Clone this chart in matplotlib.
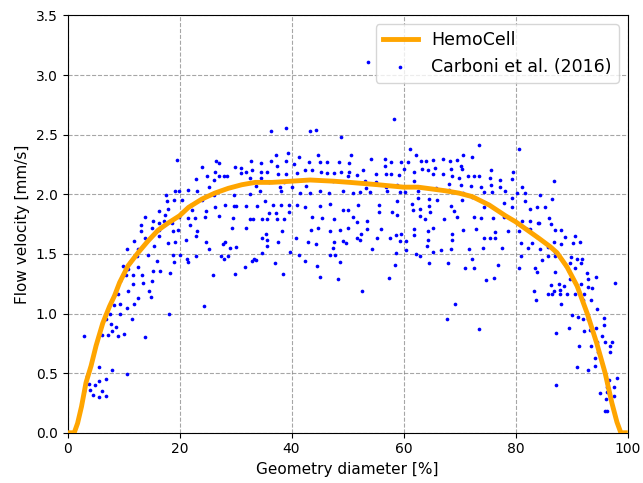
#!/usr/bin/env python
'''
    Flow velocity profile: HemoCell simulation against Carboni et al. (2016).
'''

import numpy as np
import matplotlib
matplotlib.use('Agg')
import matplotlib.pyplot as plt

# HemoCell velocity profile across the channel.
sim_diameter = [0.0, 1.2, 1.8, 2.5, 3.3, 4.2, 5.1, 6.3, 7.5, 8.4, 9.3, 10.8,
                12.6, 14.4, 16.2, 18.0, 20.0, 21.6, 24.0, 26.3, 28.7, 31.1,
                33.5, 36.5, 40.0, 43.3, 47.5, 50.4, 55.5, 60.0, 62.6, 67.4,
                69.9, 72.3, 75.3, 78.2, 80.0, 82.4, 84.2, 86.2, 87.4, 89.2,
                91.0, 92.8, 94.5, 96.0, 97.2, 98.1, 98.8, 99.6]
sim_velocity = [0.0, 0.0, 0.08, 0.22, 0.42, 0.56, 0.73, 0.92, 1.06, 1.15, 1.26,
                1.40, 1.51, 1.61, 1.70, 1.76, 1.82, 1.89, 1.96, 2.01, 2.05,
                2.08, 2.10, 2.10, 2.11, 2.12, 2.11, 2.10, 2.08, 2.06, 2.06,
                2.03, 2.01, 1.98, 1.91, 1.82, 1.77, 1.69, 1.63, 1.56, 1.51,
                1.39, 1.23, 1.00, 0.75, 0.50, 0.25, 0.09, 0.0, 0.0]

# Measured velocities, Carboni et al. (2016).
exp_diameter = [
    2.9, 3.4, 2.9, 3.8, 4.1, 4.6, 4.9, 5.6, 5.7, 5.6, 6.1, 6.9, 6.9, 7.9, 10.7,
    6.1, 7.2, 7.9, 8.7, 9.0, 10.0, 7.7, 6.8, 7.5, 9.4, 8.3, 9.4, 9.1, 10.6,
    11.6, 11.9, 12.6, 13.9, 10.8, 9.4, 9.9, 10.8, 10.4, 11.1, 11.7, 11.7, 12.6,
    13.3, 13.5, 14.6, 14.9, 15.0, 10.6, 12.4, 11.8, 12.5, 14.4, 15.3, 15.9,
    16.5, 15.5, 13.8, 13.1, 13.2, 13.8, 15.1, 15.2, 16.3, 16.4, 16.4, 16.4,
    19.5, 24.0, 26.5, 27.0, 23.0, 24.9, 26.3, 26.2, 27.0, 27.9, 28.5, 29.9,
    30.9, 31.0, 31.9, 32.8, 32.9, 32.6, 19.2, 19.9, 21.6, 23.1, 17.6, 17.7,
    19.1, 20.5, 17.9, 17.4, 17.2, 25.2, 24.0, 22.1, 22.3, 24.7, 24.5, 21.6,
    22.8, 21.9, 19.9, 18.7, 18.8, 19.8, 23.1, 22.9, 21.1, 19.2, 17.9, 26.3,
    27.0, 28.2, 26.1, 29.8, 29.7, 30.0, 31.9, 32.6, 29.5, 29.4, 32.6, 33.1,
    31.9, 24.8, 25.2, 27.8, 28.2, 29.1, 30.0, 18.9, 20.1, 19.1, 21.3, 21.5,
    23.0, 27.4, 28.0, 28.6, 18.3, 25.9, 29.9, 31.7, 32.9, 33.3, 24.4, 18.1,
    36.4, 39.0, 43.3, 44.4, 48.8, 34.5, 36.4, 37.3, 37.4, 39.0, 39.3, 40.4,
    41.3, 43.1, 44.7, 45.0, 46.4, 48.4, 50.3, 34.5, 34.5, 35.7, 37.6, 39.0,
    40.9, 42.4, 43.7, 45.3, 46.4, 47.5, 48.8, 50.0, 50.2, 33.7, 34.3, 36.0,
    37.9, 38.6, 38.2, 40.1, 41.5, 42.6, 43.3, 45.0, 46.7, 47.4, 49.2, 35.3,
    33.9, 36.7, 38.2, 39.5, 41.0, 42.4, 45.0, 46.9, 49.1, 50.0, 34.8, 35.7,
    36.0, 37.3, 37.4, 38.6, 39.5, 43.7, 45.4, 47.5, 50.0, 35.5, 34.7, 35.6,
    35.6, 38.3, 37.5, 43.5, 44.7, 46.9, 48.7, 40.8, 42.9, 44.3, 47.6, 47.4,
    49.1, 49.8, 34.8, 33.7, 39.7, 41.3, 42.4, 46.9, 47.8, 48.6, 37.0, 38.5,
    44.6, 45.0, 48.3,
    53.6, 58.3, 50.6, 54.2, 56.7, 56.6, 57.8, 59.5, 60.8, 61.2, 62.3,
    63.2, 64.0, 65.3, 67.0, 51.6, 52.8, 55.0, 56.8, 57.7, 59.1, 60.0, 61.8,
    63.3, 64.4, 65.3, 65.7, 67.1, 53.2, 53.3, 55.0, 58.8, 56.8, 57.0, 61.8,
    62.6, 65.8, 51.0, 52.3, 54.0, 59.3, 60.3, 62.5, 64.5, 66.0, 58.9, 51.8,
    55.6, 61.5, 63.0, 64.5, 51.0, 51.6, 55.7, 58.0, 58.9, 61.6, 62.9, 63.8,
    64.8, 67.2, 53.4, 53.5, 56.0, 52.4, 51.6, 52.3, 55.3, 57.5, 58.6, 59.5,
    59.4, 60.5, 61.8, 61.8, 64.3, 65.2, 64.4, 64.2, 54.4, 58.6, 60.5, 62.2,
    62.9, 65.2, 66.6, 58.5, 64.5, 57.4, 52.6,
    73.5, 80.6, 68.3, 69.6, 70.6, 72.2, 70.3, 68.4, 70.4, 68.6, 69.9, 71.5,
    72.6, 73.5, 75.6, 75.5, 77.3, 79.5, 79.3, 68.1, 68.1, 70.2, 72.0, 73.8,
    75.6, 77.2, 74.4, 75.8, 78.2, 80.2, 81.2, 81.6, 70.7, 72.2, 70.5, 79.3,
    81.7, 68.4, 77.9, 74.3, 79.3, 82.6, 83.9, 69.0, 69.5, 72.5, 73.9, 76.0,
    78.0, 81.1, 82.6, 84.0, 70.7, 73.0, 78.7, 80.7, 82.0, 82.6, 68.6, 68.6,
    68.4, 74.4, 75.5, 76.3, 76.4, 80.9, 82.9, 71.6, 74.2, 77.6, 82.2, 83.9,
    72.3, 68.0, 71.0, 72.6, 76.9, 80.9, 80.7, 83.4, 83.9, 74.7, 76.2, 83.3,
    83.6, 69.2, 67.8, 73.5,
    86.8, 84.3, 86.5, 85.2, 84.2, 85.9, 86.3, 87.0, 88.2, 88.8, 90.7, 91.5,
    90.2, 88.1, 86.8, 85.8, 84.4, 84.8, 85.8, 87.1, 87.1, 89.9, 90.9, 91.9,
    91.6, 90.6, 89.8, 89.0, 89.5, 89.8, 87.0, 92.7, 94.3, 92.9, 91.6, 92.9,
    93.7, 86.3, 87.8, 88.7, 86.9, 87.9, 85.8, 86.5, 87.9, 89.1, 90.6, 92.3,
    92.0, 93.5, 88.1, 94.5, 90.0, 91.1, 92.1, 92.9, 95.8, 89.6, 92.2, 93.3,
    94.3, 95.8, 87.2, 95.5, 91.3, 93.4, 94.5, 95.9, 96.9, 97.3, 96.8, 94.7,
    94.2, 94.2, 90.9, 93.0, 96.7, 96.4, 98.1, 96.3, 97.5, 96.4, 95.1, 97.5,
    96.1, 87.2, 96.0, 96.3, 97.8]
exp_velocity = [
    0.81, 0.48, 0.35, 0.41, 0.36, 0.32, 0.40, 0.43, 0.55, 0.30, 0.35, 0.45,
    0.31, 0.53, 0.49, 0.82, 0.82, 0.85, 0.89, 0.81, 0.83, 0.91, 0.95, 1.00,
    1.00, 1.07, 1.08, 1.16, 1.05, 0.95, 1.08, 1.13, 0.80, 1.19, 1.27, 1.40,
    1.37, 1.32, 1.43, 1.32, 1.25, 1.39, 1.32, 1.26, 1.19, 1.14, 1.27, 1.54,
    1.48, 1.61, 1.54, 1.49, 1.36, 1.44, 1.36, 1.57, 1.63, 1.69, 1.74, 1.81,
    1.72, 1.78, 1.76, 1.86, 1.70, 1.65,
    2.29, 2.23, 2.28, 2.26, 2.13, 2.15, 2.19, 2.12, 2.15, 2.15, 2.15, 2.23,
    2.22, 2.18, 2.19, 2.28, 2.20, 2.14, 2.03, 2.03, 2.04, 2.03, 1.99, 1.94,
    1.95, 1.95, 1.88, 1.83, 1.78, 2.06, 1.95, 1.91, 1.87, 1.86, 1.81, 1.80,
    1.80, 1.74, 1.81, 1.76, 1.69, 1.70, 1.69, 1.65, 1.62, 1.60, 1.59, 1.89,
    1.82, 1.91, 1.99, 1.99, 1.90, 1.90, 1.90, 2.00, 1.80, 1.72, 1.79, 1.79,
    1.72, 1.60, 1.54, 1.58, 1.60, 1.55, 1.56, 1.49, 1.49, 1.43, 1.46, 1.43,
    1.48, 1.48, 1.46, 1.48, 1.34, 1.32, 1.33, 1.39, 1.44, 1.46, 1.06, 1.00,
    2.53, 2.56, 2.53, 2.54, 2.48, 2.26, 2.28, 2.33, 2.24, 2.28, 2.35, 2.25,
    2.31, 2.27, 2.33, 2.27, 2.27, 2.27, 2.26, 2.19, 2.14, 2.19, 2.17, 2.17,
    2.18, 2.20, 2.20, 2.19, 2.18, 2.18, 2.19, 2.15, 2.19, 2.07, 2.03, 2.10,
    2.06, 2.10, 2.03, 2.06, 2.01, 2.07, 2.01, 2.03, 2.01, 2.11, 2.03, 1.94,
    1.90, 1.91, 1.91, 1.91, 1.91, 1.89, 1.90, 1.92, 1.87, 1.87, 1.79, 1.79,
    1.84, 1.84, 1.79, 1.79, 1.85, 1.81, 1.80, 1.79, 1.72, 1.67, 1.63, 1.62,
    1.57, 1.69, 1.60, 1.70, 1.72, 1.69, 1.70, 1.63, 1.60, 1.58, 1.60, 1.55,
    1.61, 1.59, 1.51, 1.45, 1.52, 1.49, 1.44, 1.49, 1.49, 1.43, 1.42, 1.33,
    1.40, 1.31, 1.29,
    3.11, 2.63, 2.33, 2.30, 2.30, 2.24, 2.27, 2.27, 2.27, 2.38, 2.33,
    2.28, 2.28, 2.29, 2.30, 2.16, 2.20, 2.17, 2.17, 2.17, 2.16, 2.21, 2.19,
    2.21, 2.20, 2.17, 2.22, 2.17, 2.11, 2.05, 2.10, 2.08, 2.06, 2.03, 2.11,
    2.03, 2.05, 2.01, 2.02, 2.02, 2.02, 2.02, 1.97, 1.96, 1.95, 1.94, 1.91,
    1.91, 1.92, 1.88, 1.90, 1.81, 1.77, 1.85, 1.85, 1.83, 1.87, 1.82, 1.79,
    1.85, 1.79, 1.78, 1.71, 1.71, 1.67, 1.63, 1.62, 1.63, 1.63, 1.66, 1.67,
    1.61, 1.61, 1.71, 1.66, 1.69, 1.72, 1.62, 1.57, 1.54, 1.51, 1.53, 1.50,
    1.48, 1.52, 1.53, 1.41, 1.42, 1.30, 1.19,
    2.41, 2.38, 2.28, 2.29, 2.33, 2.31, 2.24, 2.21, 2.21, 2.15, 2.14, 2.15,
    2.15, 2.15, 2.20, 2.14, 2.12, 2.19, 2.13, 2.09, 2.04, 2.08, 2.07, 2.06,
    2.08, 2.06, 2.02, 2.02, 2.03, 2.01, 2.06, 2.01, 2.01, 1.98, 1.95, 1.97,
    1.94, 1.90, 1.93, 1.89, 1.89, 1.88, 1.89, 1.86, 1.81, 1.81, 1.80, 1.80,
    1.81, 1.78, 1.78, 1.76, 1.70, 1.71, 1.69, 1.69, 1.71, 1.71, 1.67, 1.62,
    1.54, 1.63, 1.63, 1.63, 1.68, 1.59, 1.59, 1.54, 1.55, 1.55, 1.55, 1.64,
    1.46, 1.42, 1.38, 1.38, 1.41, 1.48, 1.38, 1.38, 1.35, 1.28, 1.30, 1.19,
    1.11, 1.08, 0.95, 0.87,
    2.11, 1.99, 1.96, 1.89, 1.76, 1.80, 1.75, 1.70, 1.70, 1.64, 1.65, 1.60,
    1.59, 1.58, 1.60, 1.56, 1.54, 1.45, 1.48, 1.48, 1.52, 1.47, 1.46, 1.46,
    1.42, 1.38, 1.42, 1.40, 1.36, 1.29, 1.35, 1.34, 1.31, 1.29, 1.25, 1.22,
    1.21, 1.24, 1.25, 1.23, 1.19, 1.20, 1.16, 1.16, 1.16, 1.16, 1.16, 1.16,
    1.11, 1.11, 1.08, 1.04, 0.99, 0.97, 0.95, 0.95, 0.96, 0.88, 0.85, 0.86,
    0.88, 0.90, 0.84, 0.81, 0.73, 0.73, 0.76, 0.76, 0.73, 0.76, 0.68, 0.68,
    0.63, 0.56, 0.55, 0.53, 0.44, 0.42, 0.46, 0.38, 0.38, 0.34, 0.33, 0.31,
    0.28, 0.40, 0.18, 0.18, 1.26]

fig = plt.figure(figsize=(6.43, 4.83), dpi=100)
ax = fig.add_axes([0.105, 0.104, 0.871, 0.864])

ax.plot(sim_diameter, sim_velocity, color='orange', linewidth=3.5,
        label='HemoCell', zorder=3)
ax.scatter(exp_diameter, exp_velocity, s=7, color='blue', linewidths=0,
           label='Carboni et al. (2016)', zorder=2)

ax.set_xlim(0, 100)
ax.set_ylim(0, 3.5)
ax.set_xticks(np.arange(0, 101, 20))
ax.set_yticks(np.arange(0, 3.51, 0.5))
ax.set_xlabel('Geometry diameter [%]', fontsize=11)
ax.set_ylabel('Flow velocity [mm/s]', fontsize=11)
ax.grid(True, linestyle='--', color='gray', alpha=0.7, linewidth=0.8)
ax.set_axisbelow(True)
ax.legend(loc='upper right', fontsize=12.5)

fig.savefig('out.png', dpi=100)
